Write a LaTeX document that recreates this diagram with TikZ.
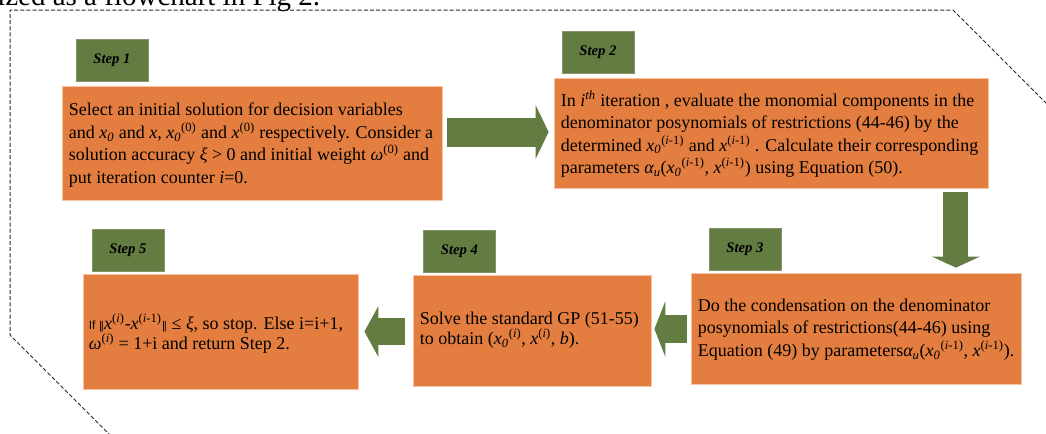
\documentclass[tikz,border=0pt]{standalone}
\usepackage{fontspec}
\setmainfont{Liberation Serif}
\newfontfamily\sansf{Liberation Sans}
\newfontfamily\dejavu{DejaVu Sans}
\usetikzlibrary{calc,arrows.meta}
\definecolor{boxorange}{RGB}{228,126,64}
\definecolor{boxedge}{RGB}{246,196,160}
\definecolor{boxgreen}{RGB}{99,124,66}
\definecolor{outline}{RGB}{40,40,40}
\newcommand\sub[1]{\textsubscript{#1}}
\newcommand\sups[1]{\textsuperscript{#1}}
\begin{document}
\begin{tikzpicture}[x=0.75pt,y=-0.75pt,
  obox/.style={rectangle,fill=boxorange,draw=boxedge,line width=0.6pt,inner sep=0pt},
  gbox/.style={rectangle,fill=boxgreen,draw=boxgreen!80!white,line width=0.5pt,inner sep=0pt,
    minimum width=54pt,minimum height=31.5pt,font=\fontsize{11pt}{13pt}\selectfont\bfseries\itshape},
  btext/.style={anchor=west,align=left,inner sep=0pt,font=\fontsize{13.5pt}{16.8pt}\selectfont},
  btextb/.style={anchor=west,align=left,inner sep=0pt,font=\fontsize{13.5pt}{14.8pt}\selectfont},
  barrow/.style={draw=boxgreen,line cap=butt},
  frame/.style={draw=outline,line width=0.75pt,dash pattern=on 3pt off 1.6pt}
]
\useasboundingbox (0,0) rectangle (1046,433);
\clip (0,0) rectangle (1046,433);
\fill[white] (0,0) rectangle (1046,433);

% cut-off text of the surrounding page
\node[anchor=base west,inner sep=0pt,font=\fontsize{21.75pt}{24pt}\selectfont] (toptext) at (-3,5) {ized as a flowchart in Fig 2.};

% dashed outline
\draw[frame] (1090,147) -- (953,10) -- (10,10) -- (10,335) -- (115,440);

% orange step boxes
\node[obox,minimum width=285pt,minimum height=85.5pt] (s1) at (252,143) {};
\node[obox,minimum width=325.5pt,minimum height=82.5pt] (s2) at (771,133) {};
\node[obox,minimum width=247.5pt,minimum height=83.25pt] (s3) at (856,328.5) {};
\node[obox,minimum width=178.5pt,minimum height=83.25pt] (s4) at (532,330.5) {};
\node[obox,minimum width=206.25pt,minimum height=86.25pt] (s5) at (220.5,331.5) {};

% green labels
\node[gbox] (g1) at (112,60.5) {Step 1};
\node[gbox] (g2) at (598,52.5) {Step 2};
\node[gbox] (g3) at (745,249) {Step 3};
\node[gbox] (g4) at (459.5,251.5) {Step 4};
\node[gbox] (g5) at (128,250.5) {Step 5};

% texts
\node[btext] (t1) at ($(s1.west)+(7,2)$) {Select an initial solution for decision variables\\
and \textit{x\sub{0}} and \textit{x}, \textit{x\sub{0}}\sups{(0)} and \textit{x}\sups{(0)} respectively. Consider a\\
solution accuracy \textit{ξ} > 0 and initial weight \textit{ω}\sups{(0)} and\\
put iteration counter \textit{i}=0.};

\node[btext] (t2) at ($(s2.west)+(7,1)$) {In \textit{i}\sups{\textit{th}} iteration , evaluate the monomial components in the\\
denominator posynomials of restrictions (44-46) by the\\
determined \textit{x\sub{0}}\sups{(\textit{i}-1)} and \textit{x}\sups{(\textit{i}-1)} . Calculate their corresponding\\
parameters \textit{α\sub{u}}(\textit{x\sub{0}}\sups{(\textit{i}-1)}, \textit{x}\sups{(\textit{i}-1)}) using Equation (50).};

\node[btext] (t3) at ($(s3.west)+(7,1)$) {Do the condensation on the denominator\\
posynomials of restrictions(44-46) using\\
Equation (49) by parameters\textit{α\sub{u}}(\textit{x\sub{0}}\sups{(\textit{i}-1)}, \textit{x}\sups{(\textit{i}-1)}).};

\node[btextb] (t4) at ($(s4.west)+(7,0)$) {Solve the standard GP (51-55)\\
to obtain (\textit{x\sub{0}}\sups{(\textit{i})}, \textit{x}\sups{(\textit{i})}, \textit{b}).};

\node[btextb] (t5) at ($(s5.west)+(6,2)$) {{\sansf\fontsize{9pt}{9pt}\selectfont If }{\dejavu\fontsize{8pt}{9pt}\selectfont ‖}\textit{x}\sups{(\textit{i})}-\textit{x}\sups{(\textit{i}-1)}{\dejavu\fontsize{8pt}{9pt}\selectfont ‖} ≤ \textit{ξ}, so stop. Else i=i+1,\\
\textit{ω}\sups{(\textit{i})} = 1+i and return Step 2.};

% block arrows
\draw[barrow,line width=21.75pt,-{Triangle[length=9.75pt,width=40.5pt,line width=0pt]}]
  ($(s1.east)+(5,-11)$) -- ($(s2.west)+(-5,-1)$);
\draw[barrow,line width=18.75pt,-{Triangle[length=8.25pt,width=36pt,line width=0pt]}]
  ($(s2.south east)+(-32.5,4)$) -- ($(s3.north east)+(-65.5,-5)$);
\draw[barrow,line width=21pt,-{Triangle[length=8.25pt,width=42pt,line width=0pt]}]
  ($(s3.west)+(-4,0.5)$) -- ($(s4.east)+(3,-1.5)$);
\draw[barrow,line width=20.25pt,-{Triangle[length=10.5pt,width=38.25pt,line width=0pt]}]
  ($(s4.west)+(-8,1)$) -- ($(s5.east)+(6,0)$);
\end{tikzpicture}
\end{document}
